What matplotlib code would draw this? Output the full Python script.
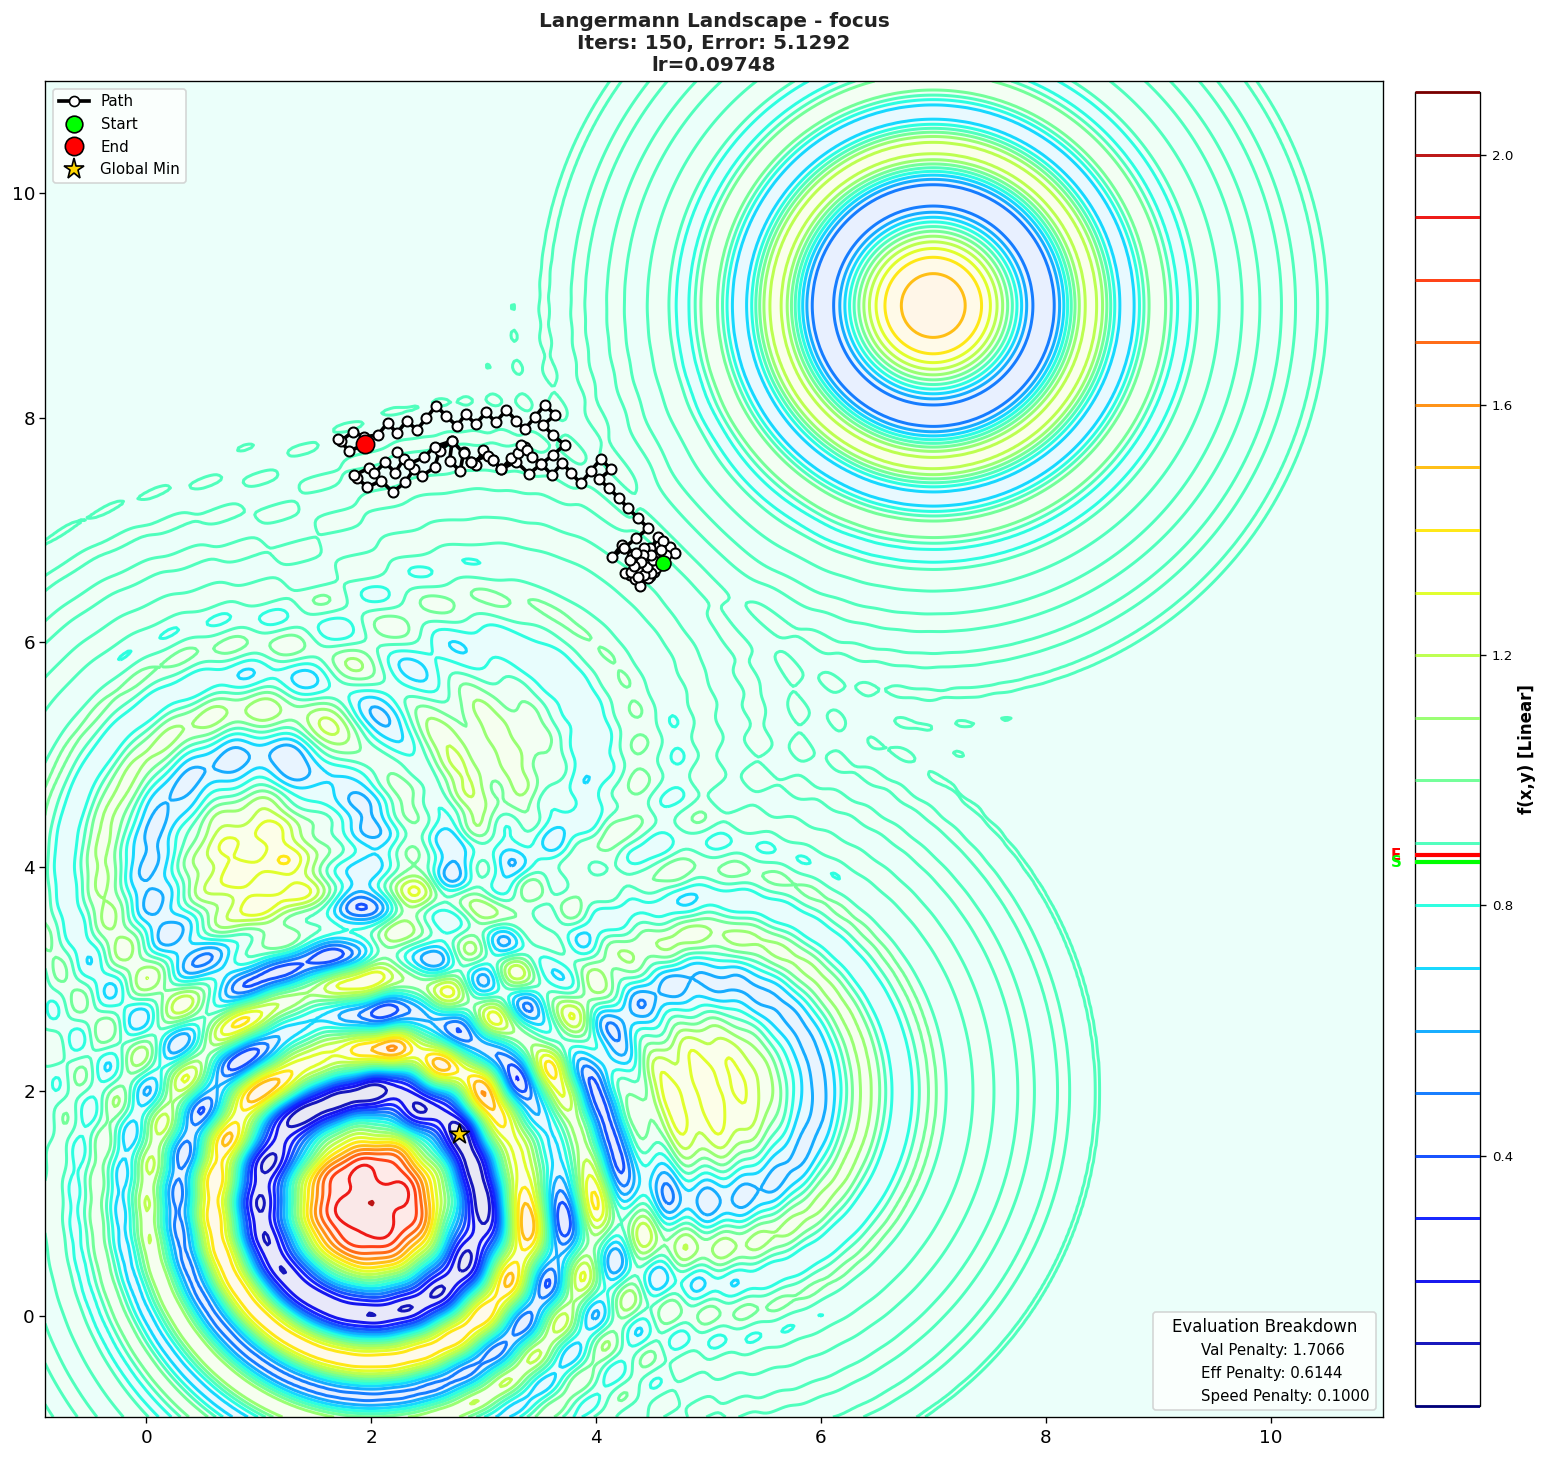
"""
Langermann landscape with the optimiser path on top.
The contour field comes from the Langermann function itself, using the centres
and weights below; its offset and scale were estimated from the colour levels.
"""

import numpy as np
import matplotlib
matplotlib.use('Agg')
import matplotlib.pyplot as plt
from matplotlib.lines import Line2D

# Langermann parameters
centre_x = [3, 5, 2, 1, 7]
centre_y = [5, 2, 1, 4, 9]
weights = [1, 2, 5, 2, 3]
z_offset = 0.8916
z_scale = 0.215

levels = [i / 10 for i in range(22)]
cbar_ticks = [0.4, 0.8, 1.2, 1.6, 2.0]

path_x = [4.598, 4.54, 4.47, 4.52, 4.60, 4.50, 4.42, 4.36, 4.48, 4.52, 4.44, 4.55, 4.66, 4.70, 4.62,
          4.50, 4.41, 4.30, 4.26, 4.35, 4.39, 4.46, 4.53, 4.47, 4.56, 4.60, 4.52, 4.44, 4.38, 4.31,
          4.36, 4.45, 4.49, 4.43, 4.37, 4.45, 4.51, 4.58, 4.48, 4.43, 4.49, 4.42, 4.32, 4.40, 4.34,
          4.30, 4.36, 4.25, 4.23, 4.144, 4.25, 4.36, 4.465, 4.375, 4.286, 4.206, 4.117, 4.028, 4.135,
          4.043, 3.954, 3.865, 3.781, 3.701, 3.609, 3.514, 3.404, 3.292, 3.158, 3.084, 2.995, 2.935,
          2.891, 2.823, 2.793, 2.698, 2.722, 2.609, 2.565, 2.452, 2.381, 2.303, 2.193, 2.090, 1.965,
          1.876, 1.852, 1.980, 2.030, 2.125, 2.214, 2.292, 2.229, 2.336, 2.470, 2.565, 2.722, 2.823,
          2.891, 3.039, 3.084, 3.158, 3.247, 3.306, 3.366, 3.336, 3.387, 3.434, 3.514, 3.618, 3.722,
          3.618, 3.529, 3.639, 3.544, 3.455, 3.366, 3.292, 3.203, 3.108, 3.025, 2.930, 2.840, 2.763,
          2.668, 2.579, 2.490, 2.407, 2.318, 2.229, 2.149, 2.060, 1.940, 1.837, 1.733, 1.704, 1.808,
          1.947]
path_y = [6.705, 6.80, 6.72, 6.84, 6.88, 6.76, 6.68, 6.62, 6.59, 6.63, 6.74, 6.94, 6.85, 6.80, 6.78,
          6.70, 6.675, 6.60, 6.62, 6.56, 6.50, 6.57, 6.66, 6.78, 6.86, 6.90, 6.78, 6.70, 6.65, 6.63,
          6.70, 6.66, 6.62, 6.60, 6.58, 6.67, 6.73, 6.82, 6.84, 6.84, 6.78, 6.78, 6.77, 6.72, 6.68,
          6.73, 6.80, 6.84, 6.87, 6.758, 6.84, 6.93, 7.016, 7.105, 7.194, 7.283, 7.372, 7.452, 7.541,
          7.633, 7.526, 7.416, 7.506, 7.601, 7.491, 7.589, 7.500, 7.610, 7.544, 7.625, 7.713, 7.580,
          7.610, 7.693, 7.527, 7.616, 7.797, 7.705, 7.559, 7.482, 7.541, 7.426, 7.337, 7.441, 7.381,
          7.467, 7.491, 7.550, 7.506, 7.604, 7.512, 7.633, 7.696, 7.589, 7.648, 7.743, 7.794, 7.684,
          7.610, 7.663, 7.625, 7.544, 7.639, 7.684, 7.737, 7.758, 7.713, 7.654, 7.589, 7.670, 7.758,
          7.847, 7.936, 8.025, 8.114, 8.004, 7.897, 7.974, 8.069, 7.960, 8.049, 7.945, 8.031, 7.927,
          8.016, 8.108, 7.995, 7.891, 7.974, 7.862, 7.957, 7.847, 7.830, 7.877, 7.794, 7.811, 7.705,
          7.764]

global_min = (2.78, 1.62)
z_start = 0.869
z_end = 0.880

x_limits = (-0.9, 11.0)
y_limits = (-0.9, 11.0)
axis_ticks = [0, 2, 4, 6, 8, 10]

title_lines = ['Langermann Landscape - focus', 'Iters: 150, Error: 5.1292', 'lr=0.09748']
breakdown = ['Val Penalty: 1.7066', 'Eff Penalty: 0.6144', 'Speed Penalty: 0.1000']


def langermann(x, y):
    total = np.zeros_like(x)
    for cx, cy, c in zip(centre_x, centre_y, weights):
        r2 = (x - cx) ** 2 + (y - cy) ** 2
        total += c * np.exp(-r2 / np.pi) * np.cos(np.pi * r2)
    return total


xs = np.linspace(x_limits[0], x_limits[1], 500)
ys = np.linspace(y_limits[0], y_limits[1], 500)
X, Y = np.meshgrid(xs, ys)
Z = z_offset + z_scale * langermann(X, Y)

W, H = 1550, 1459
DPI = 120
fig = plt.figure(figsize=(W / DPI, H / DPI), dpi=DPI)
ax = fig.add_axes([45 / W, 1 - 1417 / H, 1338 / W, 1336 / H])
cax = fig.add_axes([1415 / W, 1 - 1406 / H, 65 / W, 1314 / H])

ax.contourf(X, Y, Z, levels=levels, cmap='jet', alpha=0.09, extend='both')
cs = ax.contour(X, Y, Z, levels=levels, cmap='jet', linewidths=1.8, alpha=0.9)

ax.plot(path_x, path_y, '-o', color='black', lw=2.2, ms=6, mfc='white', mec='black', mew=1.2, zorder=5)
ax.scatter(path_x[0], path_y[0], s=80, c='lime', edgecolors='black', linewidths=1, zorder=6)
ax.scatter(path_x[-1], path_y[-1], s=120, c='red', edgecolors='black', linewidths=1, zorder=6)
ax.scatter(*global_min, s=150, c='gold', marker='*', edgecolors='black', linewidths=1, zorder=6)

ax.set_xlim(x_limits)
ax.set_ylim(y_limits)
ax.set_xticks(axis_ticks)
ax.set_yticks(axis_ticks)
ax.tick_params(labelsize=11)
ax.tick_params(axis='y', pad=2.5)
ax.set_title('\n'.join(title_lines), fontsize=12, fontweight='bold', color='#222222', pad=6,
             linespacing=1.2)

handles = [
    Line2D([], [], color='black', lw=2.2, marker='o', ms=6, mfc='white', mec='black', label='Path'),
    Line2D([], [], ls='', marker='o', ms=10, mfc='lime', mec='black', label='Start'),
    Line2D([], [], ls='', marker='o', ms=11, mfc='red', mec='black', label='End'),
    Line2D([], [], ls='', marker='*', ms=13, mfc='gold', mec='black', label='Global Min'),
]
path_legend = ax.legend(handles=handles, loc='upper left', fontsize=9)
ax.add_artist(path_legend)

blank = [Line2D([], [], ls='', label=t) for t in breakdown]
ax.legend(handles=blank, loc='lower right', fontsize=9, title='Evaluation Breakdown', title_fontsize=10)

cbar = fig.colorbar(cs, cax=cax)
cbar.set_ticks(cbar_ticks)
cbar.ax.tick_params(labelsize=8)
cbar.outline.set_zorder(1)
cbar.set_label('f(x,y) [Linear]', fontsize=10, fontweight='bold', labelpad=3)
cax.axhline(z_start, color='lime', lw=2.5)
cax.axhline(z_end, color='red', lw=2.5)
cax.text(-0.29, z_end, 'E', color='red', fontsize=9, fontweight='bold', ha='center', va='center',
         transform=cax.get_yaxis_transform())
cax.text(-0.29, z_start, 'S', color='lime', fontsize=9, fontweight='bold', ha='center', va='center',
         transform=cax.get_yaxis_transform())

plt.savefig('out.png', dpi=DPI)
plt.close()
